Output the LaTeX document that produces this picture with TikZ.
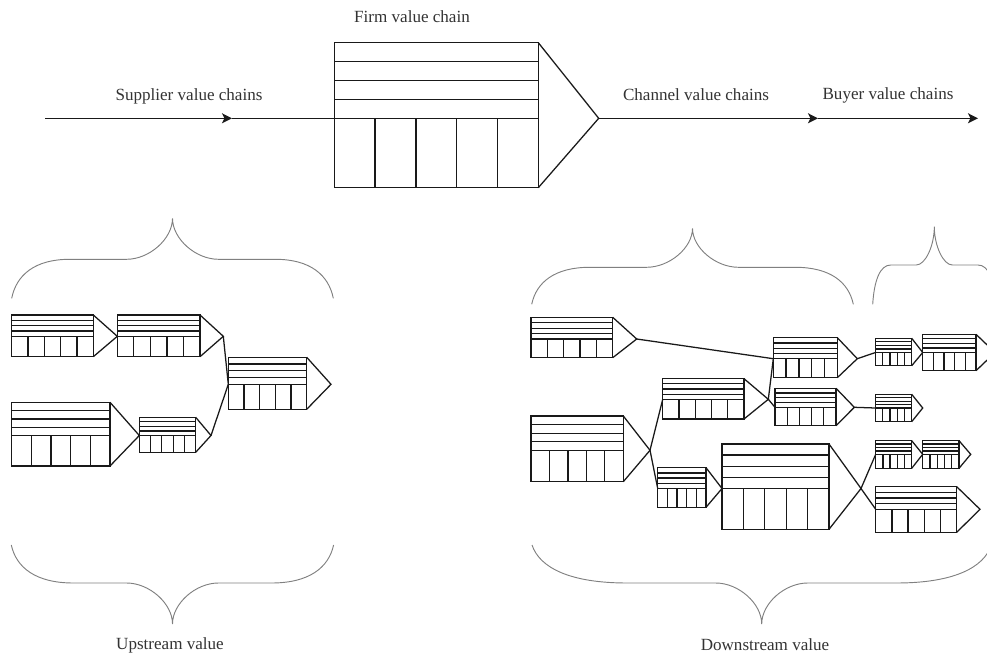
\documentclass[tikz,border=0pt]{standalone}
\usepackage{fontspec}
\setmainfont{Liberation Serif}
\usetikzlibrary{arrows.meta}

\tikzset{
  chainline/.style={line width=0.95pt, black!90, line join=miter},
  flowline/.style={line width=0.95pt, black!90},
  flowarrow/.style={flowline, -{Stealth[length=7.5pt, width=7.5pt, inset=1.8pt]}},
  linkline/.style={line width=0.95pt, black!90},
  bracestyle/.style={line width=0.7pt, black!50},
  caption/.style={font=\fontsize{12.8pt}{15pt}\selectfont, text=black!80, inner sep=0pt}
}

% A value chain: name, left x, right x, top y, middle y, bottom y, tip x
\newcommand{\valuechain}[7]{%
  \draw[chainline] (#2,#4) rectangle (#3,#6);
  \foreach \k in {1,2,3}
    \draw[chainline] (#2,{#4+\k*(#5-#4)/4}) -- (#3,{#4+\k*(#5-#4)/4});
  \draw[chainline] (#2,#5) -- (#3,#5);
  \foreach \k in {1,2,3,4}
    \draw[chainline] ({#2+\k*(#3-#2)/5},#5) -- ({#2+\k*(#3-#2)/5},#6);
  \draw[chainline] (#3,#4) -- (#7,#5) -- (#3,#6);
  \coordinate (#1-in) at (#2,#5);
  \coordinate (#1-tip) at (#7,#5);
}

% A curly brace: left x, right x, end y, flat y, tip x, tip y, left reach, tip reach
\newcommand{\curlybrace}[8]{%
  \draw[bracestyle] (#1,#3)
    .. controls ({#1+0.08*#7},{#4+0.4*(#3-#4)}) and ({#1+0.4*#7},#4) .. ({#1+#7},#4)
    -- ({#5-#8},#4)
    .. controls ({#5-0.5*#8},#4) and (#5,{#4+0.5*(#6-#4)}) .. (#5,#6)
    .. controls (#5,{#4+0.5*(#6-#4)}) and ({#5+0.5*#8},#4) .. ({#5+#8},#4)
    -- ({#2-#7},#4)
    .. controls ({#2-0.4*#7},#4) and ({#2-0.08*#7},{#4+0.4*(#3-#4)}) .. (#2,#3);
}

\begin{document}
\begin{tikzpicture}[x=0.75pt, y=-0.75pt]
\useasboundingbox (0,0) rectangle (987,655);
\clip (0,0) rectangle (987,655);

% ---- main value system line ----
\valuechain{firm}{334.3}{538.3}{42.7}{118.3}{187.7}{598.7}

\coordinate (start) at (45,118.3);
\coordinate (supmark) at (232,118.3);
\coordinate (chanmark) at (818,118.3);
\coordinate (finish) at (978,118.3);

\draw[flowarrow] (start) -- (supmark);
\draw[flowline] (supmark) -- (firm-in);
\draw[flowarrow] (firm-tip) -- (chanmark);
\draw[flowarrow] (chanmark) -- (finish);

\node[caption] (firmlabel) at (412,17) {Firm value chain};
\node[caption] (suplabel) at (189,96) {Supplier value chains};
\node[caption] (chanlabel) at (696,95) {Channel value chains};
\node[caption] (buylabel) at (888,95) {Buyer value chains};

% ---- upstream cluster ----
\valuechain{u1}{11.7}{93.3}{315}{336.3}{356.7}{117.3}
\valuechain{u2}{117.3}{200}{315}{336.3}{356.7}{223.3}
\valuechain{u3}{228.3}{306.7}{357.3}{384.3}{409.3}{331}
\valuechain{u4}{11.7}{110}{402.3}{435.5}{466}{139.3}
\valuechain{u5}{139.3}{195.7}{417.3}{435.5}{452.3}{211}

\draw[linkline] (u2-tip) -- (u3-in);
\draw[linkline] (u5-tip) -- (u3-in);

% ---- downstream cluster ----
\valuechain{d1}{531}{612.7}{317.3}{339}{357.7}{636.7}
\valuechain{d2}{531}{623.3}{416}{450.3}{481.7}{650}
\valuechain{d3}{773.3}{837.3}{337.7}{358.7}{377.7}{857.3}
\valuechain{d4}{662.7}{744}{378.7}{399.3}{419}{768.3}
\valuechain{d5}{775}{836}{388.3}{407.3}{425.7}{854.3}
\valuechain{d6}{657.7}{706}{467.7}{488.5}{507.3}{722}
\valuechain{d7}{722}{829}{444}{488.5}{529.3}{861}
\valuechain{b1}{875.5}{911.7}{338.3}{352.5}{365.7}{922.7}
\valuechain{b2}{922.7}{976}{334.3}{352.5}{370.7}{995}
\valuechain{b3}{875.5}{911.7}{394.3}{408}{421.7}{922.7}
\valuechain{b4}{875.7}{911.7}{440.7}{454.3}{468.3}{922.7}
\valuechain{b5}{922.7}{959}{440.7}{454.3}{468.3}{970.7}
\valuechain{b6}{875.7}{956.7}{486.7}{509.3}{532.3}{980}

\draw[linkline] (d1-tip) -- (d3-in);
\draw[linkline] (d2-tip) -- (d4-in);
\draw[linkline] (d2-tip) -- (d6-in);
\draw[linkline] (d4-tip) -- (d3-in);
\draw[linkline] (d4-tip) -- (d5-in);
\draw[linkline] (d3-tip) -- (b1-in);
\draw[linkline] (d5-tip) -- (b3-in);
\draw[linkline] (d7-tip) -- (b4-in);
\draw[linkline] (d7-tip) -- (b6-in);

% ---- braces ----
\curlybrace{11.7}{333.3}{298.3}{259.3}{172.5}{218.3}{58}{46}
\curlybrace{531.7}{853.3}{304.3}{267.3}{692.5}{228.3}{58}{46}
\curlybrace{872.7}{996}{304.3}{265}{934.3}{226.7}{18}{18}
\curlybrace{11.3}{333.6}{545}{583}{172.5}{624}{62}{46}
\curlybrace{532}{991.4}{545}{583}{761.7}{624}{95}{46}

\node[caption] (uplabel) at (170,645) {Upstream value};
\node[caption] (downlabel) at (765,645) {Downstream value};
\end{tikzpicture}
\end{document}
